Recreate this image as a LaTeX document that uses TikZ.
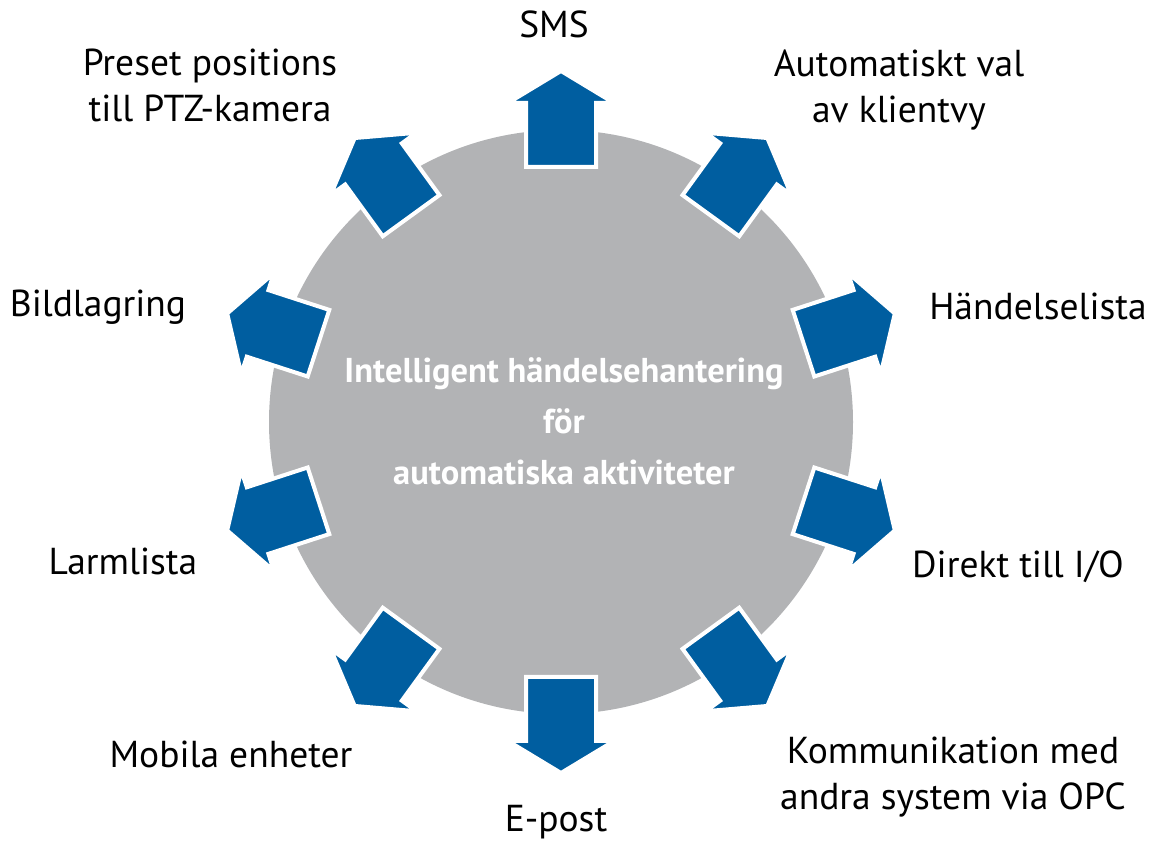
\documentclass[tikz,border=0pt]{standalone}
\usepackage{fontspec}
\setmainfont{PT Sans}
\definecolor{arrowblue}{RGB}{0,94,160}
\definecolor{discgray}{RGB}{178,179,181}
\begin{document}
\begin{tikzpicture}[x=1pt,y=1pt,
  lbl/.style={anchor=base,align=center,inner sep=0pt,font=\fontsize{37.5}{46.5}\selectfont},
  ctr/.style={align=center,text=white,inner sep=0pt,font=\fontsize{34.5}{51}\selectfont\bfseries},
  blockarrow/.style={fill=arrowblue,draw=white,line width=4pt,line join=miter}]
\useasboundingbox (0,0) rectangle (1152,843);
\fill[discgray] (561,421) circle (292);
\node[ctr] (hub) at (564,422) {Intelligent händelsehantering\\för\\automatiska aktiviteter};
\foreach \a in {90,54,18,-18,-54,-90,-126,-162,162,126}{
  \draw[blockarrow,shift={(561,421)},rotate=\a]
    (255,-35) -- (319,-35) -- (319,-53) -- (351,0) -- (319,53) -- (319,35) -- (255,35) -- cycle;
}
\node[lbl] (sms) at (554,805) {SMS};
\node[lbl] (auto) at (899,720) {Automatiskt val\\av klientvy};
\node[lbl] (hand) at (1038,523) {Händelselista};
\node[lbl] (dir) at (1018,265) {Direkt till I/O};
\node[lbl] (kom) at (953,33) {Kommunikation med\\andra system via OPC};
\node[lbl] (epost) at (556,11) {E-post};
\node[lbl] (mob) at (231,75) {Mobila enheter};
\node[lbl] (larm) at (123,268) {Larmlista};
\node[lbl] (bild) at (98,526) {Bildlagring};
\node[lbl] (preset) at (210,721) {Preset positions\\till PTZ-kamera};
\end{tikzpicture}
\end{document}
